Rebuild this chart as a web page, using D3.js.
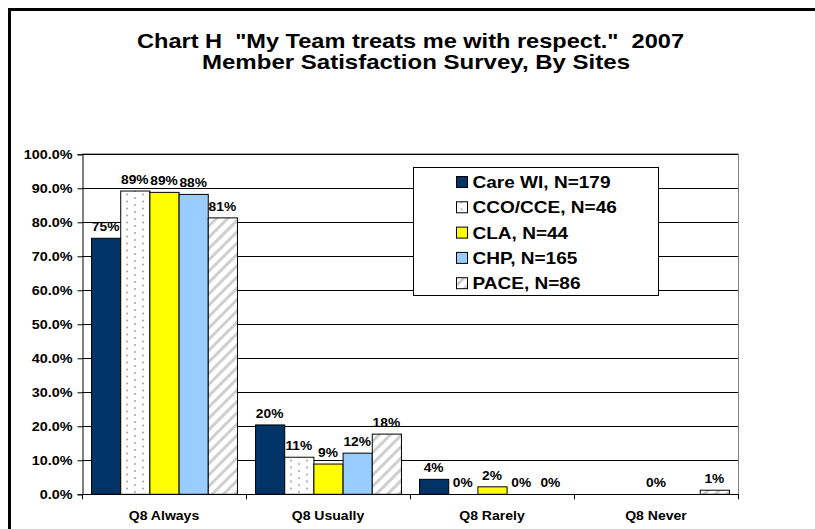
<!DOCTYPE html>
<html lang="en">
<head>
  <meta charset="UTF-8">
  <title>Chart H - My Team treats me with respect</title>
  <script src="https://d3js.org/d3.v7.min.js"></script>
  <style>
    body {
      margin: 0;
      background: #fff;
      font-family: Arial, "Liberation Sans", sans-serif;
    }
    svg text {
      font-family: Arial, "Liberation Sans", sans-serif;
      font-weight: bold;
      fill: #000;
    }
  </style>
</head>
<body>
  <svg width="815" height="529"></svg>
  <script>
    const categories = ["Q8 Always", "Q8 Usually", "Q8 Rarely", "Q8 Never"];
    const seriesNames = ["Care WI, N=179", "CCO/CCE, N=46", "CLA, N=44", "CHP, N=165", "PACE, N=86"];
    // percent values per category (null = no bar / no label)
    const careWI = [75.3, 20.4, 4.4, null];
    const ccoCce = [89.2, 10.9, 0, null];
    const cla = [88.8, 8.9, 2.2, 0];
    const chp = [88.2, 12.1, 0, null];
    const pace = [81.3, 17.7, 0, 1.2];
    const yTicks = [0, 0.1, 0.2, 0.3, 0.4, 0.5, 0.6, 0.7, 0.8, 0.9, 1.0];

    const seriesValues = [careWI, ccoCce, cla, chp, pace];
    const fills = ["#003366", "url(#dots)", "#ffff00", "#99ccff", "url(#stripes)"];

    const svg = d3.select("svg");

    // the original export is a bit wider than plain Arial, so stretch text horizontally
    function stretched(sel, x, y, sx) {
      return sel
        .attr("x", 0)
        .attr("y", 0)
        .attr("transform", (d, i) => `translate(${x(d, i)},${y(d, i)}) scale(${sx},1)`);
    }

    // patterns
    const defs = svg.append("defs");
    const dots = defs.append("pattern")
      .attr("id", "dots")
      .attr("patternUnits", "userSpaceOnUse")
      .attr("width", 16)
      .attr("height", 7);
    dots.append("rect").attr("width", 16).attr("height", 7).attr("fill", "#fff");
    dots.append("circle").attr("cx", 5).attr("cy", 2).attr("r", 0.9).attr("fill", "#999");
    dots.append("circle").attr("cx", 13).attr("cy", 5.5).attr("r", 0.9).attr("fill", "#999");

    const stripes = defs.append("pattern")
      .attr("id", "stripes")
      .attr("patternUnits", "userSpaceOnUse")
      .attr("width", 8)
      .attr("height", 8)
      .attr("patternTransform", "rotate(45)");
    stripes.append("rect").attr("width", 8).attr("height", 8).attr("fill", "#fff");
    stripes.append("rect").attr("x", 0).attr("width", 3).attr("height", 8).attr("fill", "#cfcfcf");

    // outer frame
    svg.append("rect")
      .attr("x", 9.5).attr("y", 9.5)
      .attr("width", 900).attr("height", 700)
      .attr("fill", "none")
      .attr("stroke", "#000")
      .attr("stroke-width", 3);

    // title
    svg.append("text")
      .attr("x", 137).attr("y", 48)
      .attr("textLength", 547)
      .attr("lengthAdjust", "spacingAndGlyphs")
      .attr("xml:space", "preserve")
      .style("font-size", "21px")
      .text('Chart H  "My Team treats me with respect."  2007');
    svg.append("text")
      .attr("x", 202).attr("y", 69)
      .attr("textLength", 428)
      .attr("lengthAdjust", "spacingAndGlyphs")
      .style("font-size", "21px")
      .text("Member Satisfaction Survey, By Sites");

    const plot = { left: 82, right: 738, top: 154.3, bottom: 494.3 };

    const x0 = d3.scaleBand()
      .domain(categories)
      .range([plot.left, plot.right])
      .padding(0);

    const x1 = d3.scaleBand()
      .domain(seriesNames)
      .range([0, x0.bandwidth()])
      .paddingInner(0)
      .paddingOuter(0.31);

    const y = d3.scaleLinear()
      .domain([0, 1])
      .range([plot.bottom, plot.top]);

    // plot area border (grey, top/right)
    svg.append("path")
      .attr("d", `M${plot.left},${plot.top - 0.5}H${plot.right + 0.5}V${plot.bottom}`)
      .attr("fill", "none")
      .attr("stroke", "#808080")
      .attr("stroke-width", 1);

    // gridlines
    svg.append("g")
      .selectAll("line")
      .data(yTicks.filter(t => t > 0))
      .enter()
      .append("line")
      .attr("x1", plot.left)
      .attr("x2", plot.right)
      .attr("y1", d => Math.round(y(d)) + 0.5)
      .attr("y2", d => Math.round(y(d)) + 0.5)
      .attr("stroke", "#000")
      .attr("stroke-width", 1);

    // y axis
    const yAxis = svg.append("g")
      .attr("transform", `translate(${plot.left + 0.5},0)`)
      .call(d3.axisLeft(y).tickValues(yTicks).tickFormat(d3.format(".1%")).tickSize(5).tickPadding(5));
    yAxis.select(".domain").attr("stroke", "#000");
    yAxis.selectAll(".tick line").attr("stroke", "#000");
    stretched(yAxis.selectAll(".tick text"), () => -10, () => 4, 1.2)
      .attr("dy", null)
      .style("font-size", "12px");

    // bars
    const groups = svg.append("g")
      .selectAll("g")
      .data(categories)
      .enter()
      .append("g")
      .attr("transform", d => `translate(${x0(d)},0)`);

    const cells = groups.selectAll("g")
      .data((c, ci) => seriesNames.map((s, si) => ({ s, si, v: seriesValues[si][ci] })))
      .enter()
      .append("g");

    cells.filter(d => d.v !== null && d.v > 0)
      .append("rect")
      .attr("x", d => x1(d.s) + 0.5)
      .attr("y", d => y(d.v / 100))
      .attr("width", x1.bandwidth())
      .attr("height", d => plot.bottom - y(d.v / 100))
      .attr("fill", d => fills[d.si])
      .attr("stroke", "#000")
      .attr("stroke-width", 1);

    stretched(cells.filter(d => d.v !== null).append("text"),
      d => x1(d.s) + x1.bandwidth() / 2,
      d => y(d.v / 100) - 7, 1.06)
      .attr("text-anchor", "middle")
      .style("font-size", "13px")
      .text(d => Math.round(d.v) + "%");

    // x axis
    const xAxisG = svg.append("g");
    xAxisG.append("line")
      .attr("x1", plot.left).attr("x2", plot.right + 0.5)
      .attr("y1", Math.round(plot.bottom) + 0.5).attr("y2", Math.round(plot.bottom) + 0.5)
      .attr("stroke", "#000");
    const bounds = categories.map(c => x0(c)).concat([plot.right]);
    xAxisG.selectAll(".xt")
      .data(bounds)
      .enter()
      .append("line")
      .attr("class", "xt")
      .attr("x1", d => Math.round(d) + 0.5)
      .attr("x2", d => Math.round(d) + 0.5)
      .attr("y1", plot.bottom)
      .attr("y2", plot.bottom + 5)
      .attr("stroke", "#000");
    stretched(xAxisG.selectAll(".xl")
      .data(categories)
      .enter()
      .append("text")
      .attr("class", "xl"),
      d => x0(d) + x0.bandwidth() / 2, () => 520, 1.08)
      .attr("text-anchor", "middle")
      .style("font-size", "13px")
      .text(d => d);

    // legend
    const legend = svg.append("g").attr("transform", "translate(413.5,167.5)");
    legend.append("rect")
      .attr("width", 245)
      .attr("height", 128)
      .attr("fill", "#fff")
      .attr("stroke", "#000");
    const items = legend.selectAll(".li")
      .data(seriesNames)
      .enter()
      .append("g")
      .attr("class", "li")
      .attr("transform", (d, i) => `translate(43,${14.5 + i * 25.3})`);
    items.append("rect")
      .attr("x", 0).attr("y", -5.5)
      .attr("width", 11).attr("height", 11)
      .attr("fill", (d, i) => fills[i])
      .attr("stroke", "#000");
    stretched(items.append("text"), () => 16, () => 6, 1.12)
      .style("font-size", "17px")
      .text(d => d);
  </script>
</body>
</html>
